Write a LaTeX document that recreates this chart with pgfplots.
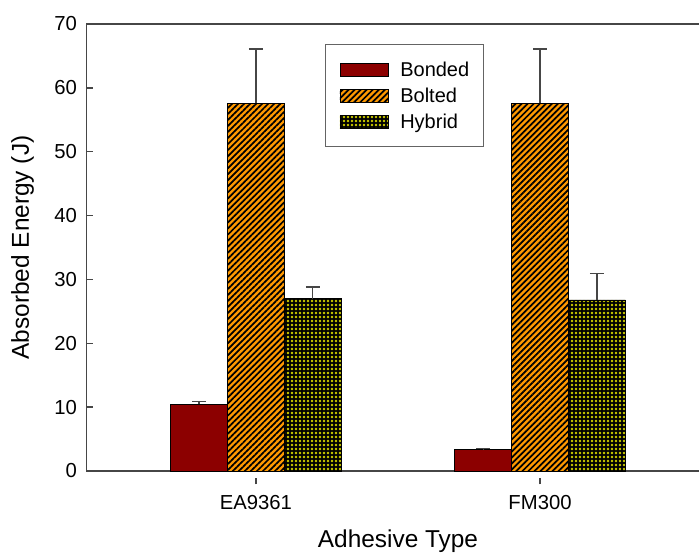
\documentclass[border=0pt]{standalone}
\usepackage{fontspec}
\setmainfont{Liberation Sans}
\usepackage{pgfplots}
\pgfplotsset{compat=1.18}
\usetikzlibrary{patterns.meta}
\definecolor{bondred}{RGB}{140,0,0}
\definecolor{boltor}{RGB}{255,153,0}
\definecolor{hybyel}{RGB}{205,205,0}
\definecolor{axgray}{RGB}{70,70,70}
\definecolor{leggray}{RGB}{100,100,100}
\pgfplotsset{myleg/.style={legend image code/.code={\draw[##1] (0pt,-4.875pt) rectangle (36pt,4.875pt);}}}
\begin{document}
\begin{tikzpicture}
\begin{axis}[
  at={(0pt,0pt)}, anchor=south west,
  scale only axis, width=467pt, height=335.25pt,
  xmin=-0.596, xmax=1.596, ymin=0, ymax=70,
  xtick={0,1}, xticklabels={EA9361,FM300},
  ytick={0,10,...,70},
  tick align=inside,
  xtick pos=left, ytick pos=left,
  major tick length=5pt,
  every major x tick/.append style={yshift=-5pt},
  tick style={axgray, line width=1pt},
  axis line style={axgray, line width=1.2pt},
  /pgf/number format/assume math mode=true,
  ticklabel style={font=\fontsize{15.2}{18}\selectfont},
  xticklabel style={anchor=base, yshift=-23.5pt},
  yticklabel style={anchor=east, xshift=-3.8pt},
  xlabel={Adhesive Type},
  ylabel={Absorbed Energy (J)},
  label style={font=\fontsize{18.3}{21}\selectfont},
  xlabel style={at={(axis description cs:0.5,-0.172)}, anchor=base},
  ylabel style={at={(axis description cs:-0.1028,0.5)}, anchor=center},
  ybar, bar width=0.2,
  legend cell align=left,
  legend style={at={(rel axis cs:0.3827,0.9553)}, anchor=north west,
    draw=leggray, line width=1pt, fill=white,
    font=\fontsize{15}{18}\selectfont,
    inner xsep=10.5pt, inner ysep=11.75pt, row sep=5.5pt, column sep=9pt,
    nodes={inner xsep=0pt, inner ysep=0pt, text height=12pt, text depth=2pt}},
]
\addplot[ybar, bar shift=-0.2, fill=bondred, draw=black, line width=0.5pt, myleg,
  error bars/.cd, y dir=plus, y explicit,
  error bar style={axgray, line width=1pt},
  error mark options={rotate=90, axgray, line width=1pt, mark size=5.25pt}]
  coordinates {(0,10.45) +- (0,0.4) (1,3.4) +- (0,0.1)};
\addlegendentry{Bonded}
\addplot[ybar, bar shift=0, fill=boltor, draw=black, line width=0.5pt,
  postaction={pattern={Lines[angle=45,distance=3.2pt,line width=1.3pt]},pattern color=black}, myleg,
  error bars/.cd, y dir=plus, y explicit,
  error bar style={axgray, line width=1pt},
  error mark options={rotate=90, axgray, line width=1pt, mark size=5.25pt}]
  coordinates {(0,57.6) +- (0,8.5) (1,57.6) +- (0,8.5)};
\addlegendentry{Bolted}
\addplot[ybar, bar shift=0.2, fill=black, draw=black, line width=0.5pt,
  postaction={pattern={Dots[radius=1.1pt,distance=3pt,angle=0]},pattern color=hybyel}, myleg,
  error bars/.cd, y dir=plus, y explicit,
  error bar style={axgray, line width=1pt},
  error mark options={rotate=90, axgray, line width=1pt, mark size=5.25pt}]
  coordinates {(0,27.0) +- (0,1.8) (1,26.8) +- (0,4.1)};
\addlegendentry{Hybrid}
\end{axis}
\pgfresetboundingbox
\path[use as bounding box] (-65pt,-61.5pt) rectangle (459.25pt,353.25pt);
\end{tikzpicture}
\end{document}
